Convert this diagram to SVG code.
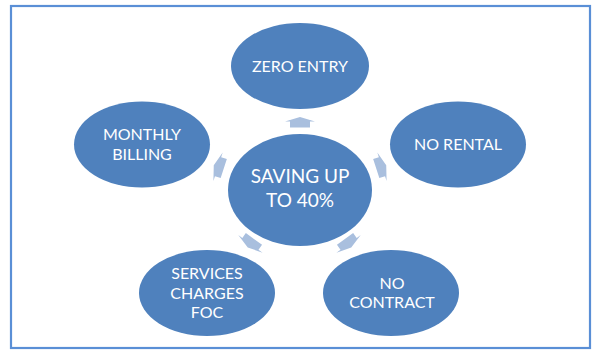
<svg xmlns="http://www.w3.org/2000/svg" width="592" height="350" viewBox="0 0 592 350">
<defs>
<style>
.node{fill:#4f81bd;}
.lbl{fill:#ffffff;font-family:Lato,"Open Sans","Liberation Sans",sans-serif;font-size:16px;text-anchor:middle;}
.big{font-size:19px;}
.arr{fill:#a9bfde;}
</style>
<polygon id="ar" points="0,-5.5 15,-1 10,-1 10,5 -10,5 -10,-1 -15,-1"/>
</defs>
<rect x="11" y="6" width="579" height="342" fill="#ffffff" stroke="#5a8fd6" stroke-width="2.2"/>
<g id="connectors" class="arr">
<use href="#ar" transform="translate(300,122.5)"/>
<use href="#ar" transform="translate(381,167) rotate(72)"/>
<use href="#ar" transform="translate(348,243) rotate(144)"/>
<use href="#ar" transform="translate(251,243) rotate(216)"/>
<use href="#ar" transform="translate(219,167) rotate(288)"/>
</g>
<g id="center">
<ellipse class="node" cx="300" cy="190" rx="72" ry="56"/>
<text class="lbl big" x="300" y="183">SAVING UP</text>
<text class="lbl big" x="300" y="207">TO 40%</text>
</g>
<g id="zero-entry">
<ellipse class="node" cx="300" cy="66" rx="69" ry="43"/>
<text class="lbl" x="300" y="72">ZERO ENTRY</text>
</g>
<g id="no-rental">
<ellipse class="node" cx="458" cy="144.5" rx="68" ry="43"/>
<text class="lbl" x="458" y="150">NO RENTAL</text>
</g>
<g id="no-contract">
<ellipse class="node" cx="391" cy="293" rx="68" ry="43"/>
<text class="lbl" x="392" y="289">NO</text>
<text class="lbl" x="392" y="308">CONTRACT</text>
</g>
<g id="services">
<ellipse class="node" cx="207" cy="293" rx="68" ry="43"/>
<text class="lbl" x="207" y="279">SERVICES</text>
<text class="lbl" x="207" y="298.5">CHARGES</text>
<text class="lbl" x="207" y="318">FOC</text>
</g>
<g id="monthly">
<ellipse class="node" cx="142" cy="144.5" rx="68" ry="43"/>
<text class="lbl" x="142" y="140">MONTHLY</text>
<text class="lbl" x="142" y="159.5">BILLING</text>
</g>
</svg>
